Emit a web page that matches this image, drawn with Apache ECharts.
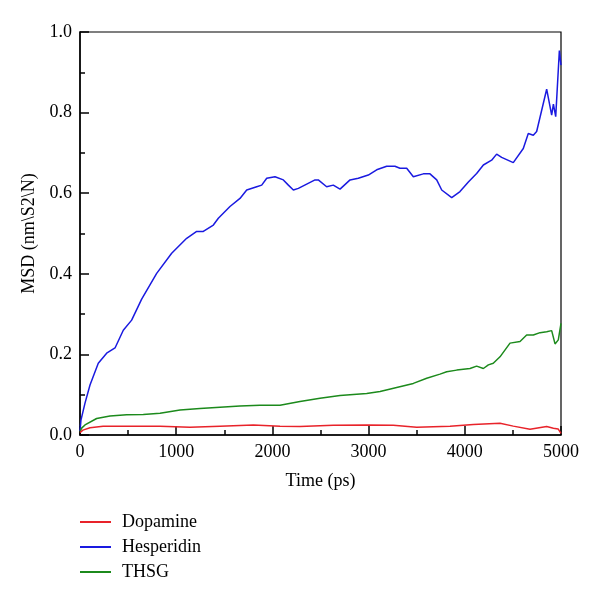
<!DOCTYPE html>
<html>
<head>
<meta charset="utf-8">
<script src="https://cdn.jsdelivr.net/npm/echarts@6/dist/echarts.min.js"></script>
<style>
html, body { margin: 0; padding: 0; background: #fff; }
#chart { width: 600px; height: 605px; }
</style>
</head>
<body>
<div id="chart"></div>
<script>
"use strict";

/***** Data *****/
var seriesNames = ['Dopamine', 'Hesperidin', 'THSG'];

var dopTime = [0, 30, 104, 240, 500, 832, 1143, 1455, 1802, 2079, 2287, 2633, 2980, 3257, 3500, 3846, 4089, 4366, 4504, 4678, 4851, 4921, 4970, 5000];
var dopVal  = [0.006, 0.012, 0.018, 0.022, 0.022, 0.022, 0.019, 0.022, 0.025, 0.022, 0.021, 0.024, 0.025, 0.024, 0.019, 0.022, 0.026, 0.029, 0.022, 0.014, 0.021, 0.017, 0.015, 0.004];

var hesTime = [0, 10, 52, 104, 190, 277, 364, 450, 537, 641, 797, 953, 1109, 1213, 1282, 1386, 1438, 1559, 1663, 1733, 1837, 1889, 1941, 2027, 2114, 2166, 2218, 2270, 2287, 2443, 2477, 2564, 2633, 2703, 2807, 2893, 2997, 3084, 3188, 3274, 3326, 3396, 3465, 3569, 3638, 3708, 3760, 3864, 3950, 4037, 4123, 4193, 4279, 4331, 4383, 4504, 4608, 4660, 4712, 4747, 4851, 4903, 4921, 4945, 4983, 5000];
var hesVal  = [0.01, 0.037, 0.079, 0.124, 0.178, 0.203, 0.216, 0.26, 0.285, 0.337, 0.401, 0.451, 0.488, 0.505, 0.505, 0.521, 0.538, 0.567, 0.587, 0.608, 0.616, 0.62, 0.637, 0.641, 0.633, 0.62, 0.608, 0.612, 0.616, 0.633, 0.633, 0.616, 0.62, 0.61, 0.633, 0.637, 0.645, 0.658, 0.667, 0.667, 0.662, 0.662, 0.641, 0.648, 0.648, 0.633, 0.608, 0.589, 0.604, 0.628, 0.649, 0.67, 0.682, 0.697, 0.689, 0.676, 0.711, 0.748, 0.744, 0.753, 0.858, 0.794, 0.821, 0.79, 0.954, 0.918];

var thsTime = [0, 17, 52, 173, 312, 485, 658, 832, 1040, 1247, 1455, 1663, 1871, 2079, 2287, 2495, 2703, 2980, 3119, 3292, 3465, 3604, 3742, 3812, 3916, 4054, 4123, 4193, 4245, 4296, 4366, 4470, 4574, 4643, 4712, 4782, 4851, 4903, 4938, 4972, 5000];
var thsVal  = [0.008, 0.017, 0.025, 0.041, 0.047, 0.05, 0.051, 0.054, 0.062, 0.066, 0.069, 0.072, 0.074, 0.074, 0.083, 0.091, 0.098, 0.103, 0.108, 0.118, 0.128, 0.141, 0.151, 0.157, 0.161, 0.165, 0.171, 0.165, 0.174, 0.178, 0.194, 0.228, 0.232, 0.248, 0.248, 0.254, 0.256, 0.259, 0.226, 0.236, 0.277];

var lineColors = ['#e8232a', '#1a1ae0', '#1c8a1c'];

function pairs(t, v) {
	return t.map(function(x, i) { return [x, v[i]]; });
}

/***** Chart *****/
var font = "'Liberation Serif', 'DejaVu Serif', serif";
var chart = echarts.init(document.getElementById('chart'));
var option = {
	animation: false,
	color: lineColors,
	grid: {
		left: 80,
		right: 39,
		top: 32,
		bottom: 170,
		show: true,
		borderColor: '#000',
		borderWidth: 1.2
	},
	legend: {
		orient: 'vertical',
		left: 80,
		top: 512,
		padding: 0,
		icon: 'rect',
		itemWidth: 31,
		itemHeight: 2,
		itemGap: 5,
		textStyle: {
			fontFamily: font,
			fontSize: 18,
			color: '#000',
			lineHeight: 20,
			padding: [0, 0, 0, 6]
		},
		data: seriesNames
	},
	xAxis: {
		type: 'value',
		min: 0,
		max: 5000,
		interval: 1000,
		name: 'Time (ps)',
		nameLocation: 'middle',
		nameGap: 37,
		nameTextStyle: { fontFamily: font, fontSize: 18, color: '#000' },
		axisLine: { lineStyle: { color: '#000', width: 1.5 } },
		axisTick: { inside: true, length: 9, lineStyle: { color: '#000', width: 1.5 } },
		minorTick: { show: true, splitNumber: 2, length: 5, lineStyle: { color: '#000', width: 1.5 } },
		axisLabel: {
			fontFamily: font, fontSize: 18, color: '#000', margin: 8,
			formatter: function(v) { return String(v); }
		},
		splitLine: { show: false }
	},
	yAxis: {
		type: 'value',
		min: 0,
		max: 1.0,
		interval: 0.2,
		name: 'MSD (nm\\S2\\N)',
		nameLocation: 'middle',
		nameGap: 40,
		nameTextStyle: { fontFamily: font, fontSize: 18, color: '#000' },
		axisLine: { lineStyle: { color: '#000', width: 1.5 } },
		axisTick: { inside: true, length: 9, lineStyle: { color: '#000', width: 1.5 } },
		minorTick: { show: true, splitNumber: 2, length: 5, lineStyle: { color: '#000', width: 1.5 } },
		axisLabel: {
			fontFamily: font, fontSize: 18, color: '#000', margin: 8,
			formatter: function(v) { return v.toFixed(1); }
		},
		splitLine: { show: false }
	},
	series: [
		{ name: seriesNames[0], type: 'line', showSymbol: false, lineStyle: { width: 1.5 }, data: pairs(dopTime, dopVal), z: 3 },
		{ name: seriesNames[1], type: 'line', showSymbol: false, lineStyle: { width: 1.5 }, data: pairs(hesTime, hesVal), z: 2 },
		{ name: seriesNames[2], type: 'line', showSymbol: false, lineStyle: { width: 1.5 }, data: pairs(thsTime, thsVal), z: 2 }
	]
};
chart.setOption(option);
</script>
</body>
</html>
